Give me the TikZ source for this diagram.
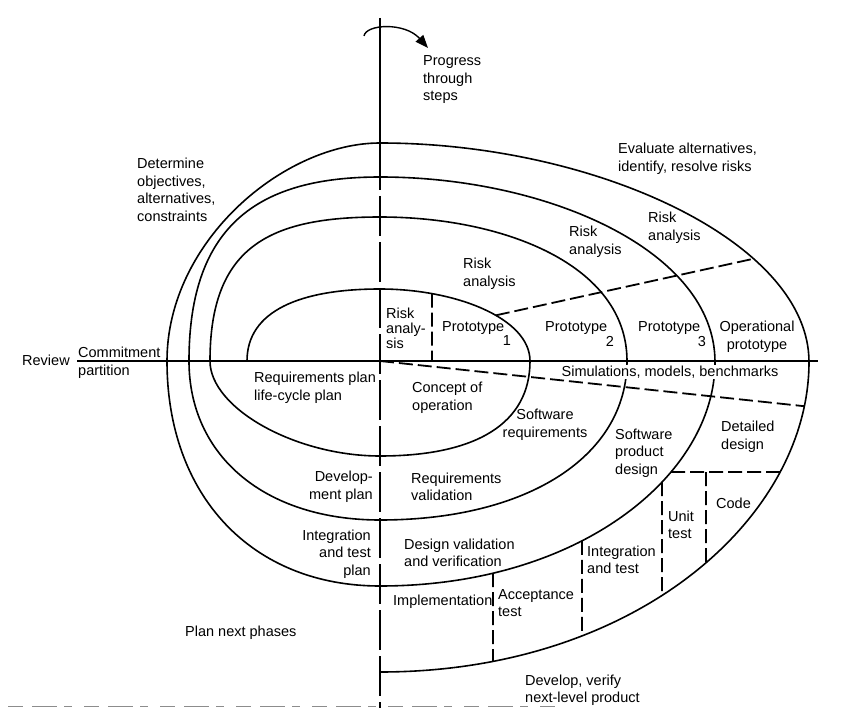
\documentclass[tikz,border=0pt]{standalone}
\usepackage{fontspec}
\setmainfont{Liberation Sans}
\usetikzlibrary{arrows.meta,intersections}

\tikzset{
  lbl/.style={inner sep=0pt, font=\fontsize{14.5}{17.5}\selectfont},
  lblL/.style={lbl, anchor=west, align=left},
  lblR/.style={lbl, anchor=east, align=right},
  lblC/.style={lbl, align=center},
  spiralline/.style={line width=1.6pt, line cap=round},
  cutline/.style={line width=1.8pt, dash pattern=on 14pt off 5pt},
  axisline/.style={line width=1.2pt},
}

\begin{document}
\begin{tikzpicture}[x=1pt, y=-1pt]
\useasboundingbox (0,0) rectangle (844,722);

\coordinate (axtop) at (380,18);
\coordinate (axmid) at (380,150);
\coordinate (axbot) at (380,708);
\coordinate (hl0) at (77,361);
\coordinate (hl1) at (818,361);
\coordinate (sm0) at (380,361);

% the spiral, one half turn at a time
\draw[spiralline, name path=u1] (247,361) .. controls (247,311) and (300,289) .. (380,289)
  .. controls (455,289) and (530,318) .. (530,361);
\draw[spiralline] (530,361) .. controls (530,423) and (477,456) .. (380,456)
  .. controls (295,456) and (210,408) .. (210,361);
\draw[spiralline] (210,361) .. controls (210,246) and (270,217) .. (380,217)
  .. controls (504,217) and (627,265) .. (627,361);
\draw[spiralline] (627,361) .. controls (627,456) and (528,520) .. (380,520)
  .. controls (265,520) and (189,456) .. (189,361);
\draw[spiralline] (189,361) .. controls (189,222) and (262,177) .. (380,177)
  .. controls (548,177) and (715,251) .. (715,362);
\draw[spiralline, name path=l3] (715,362) .. controls (715,474) and (581,586) .. (380,586);
\draw[spiralline] (380,586) .. controls (252,586) and (167,496) .. (167,361);
\draw[spiralline, name path=u4] (167,361) .. controls (167,241) and (284,143) .. (380,143)
  .. controls (595,143) and (809,242) .. (809,362);
\draw[spiralline, name path=l4] (809,362) .. controls (809,517) and (637,672) .. (380,672);

% where the cut lines meet the spiral
\path[name path=cutra] (432,250) -- (432,361);
\path[name path=cutrk] (470,321) -- (830,242);
\path[name path=cutsm] (sm0) -- (840,410);
\path[name path=cutdd] (640,472) -- (830,472);
\path[name path=cutut] (662,400) -- (662,700);
\path[name path=cutit] (582,400) -- (582,700);
\path[name path=cutac] (493,400) -- (493,700);
\path[name path=cutco] (706,472) -- (706,700);
\path[name intersections={of=u1 and cutra, by=ra0}];
\coordinate (ra1) at (432,361);
\path[name intersections={of=u1 and cutrk, by=rk0}];
\path[name intersections={of=u4 and cutrk, by=rk1}];
\path[name intersections={of=l4 and cutsm, by=sm1}];
\path[name intersections={of=l3 and cutdd, by=dd0}];
\path[name intersections={of=l4 and cutdd, by=dd1}];
\coordinate (co0) at (706,472);
\path[name intersections={of=l4 and cutco, by=co1}];
\path[name intersections={of=l3 and cutut, by=ut0}];
\path[name intersections={of=l4 and cutut, by=ut1}];
\path[name intersections={of=l3 and cutit, by=it0}];
\path[name intersections={of=l4 and cutit, by=it1}];
\path[name intersections={of=l3 and cutac, by=ac0}];
\path[name intersections={of=l4 and cutac, by=ac1}];

% axis and arrow
\draw[axisline] (axtop) -- (axmid);
\draw[axisline, dash pattern=on 40pt off 6pt] (axmid) -- (axbot);
\draw[line width=1.4pt, -{Triangle[length=13pt,width=10pt]}]
  (364,36) .. controls (366,24) and (405,22) .. (428,48);

\node[lbl, fill=white, inner sep=1pt] (sim) at (670,372) {Simulations, models, benchmarks};

\draw[line width=2.2pt] (hl0) -- (hl1);
\draw[cutline] (ra0) -- (ra1);
\draw[cutline] (rk0) -- (rk1);
\draw[cutline] (sm0) -- (sm1);
\draw[cutline] (dd0) -- (dd1);
\draw[cutline] (co0) -- (co1);
\draw[cutline] (ut0) -- (ut1);
\draw[cutline] (it0) -- (it1);
\draw[cutline] (ac0) -- (ac1);
\draw[black!45, line width=0.8pt, dash pattern=on 15pt off 9pt on 25pt off 7pt on 8pt off 12pt]
  (8,706) -- (555,706);

% labels
\node[lblL] (progress) at (423,80) {Progress\\through\\steps};
\node[lblL] (evaluate) at (618,159) {Evaluate alternatives,\\identify, resolve risks};
\node[lblL] (determine) at (137,190) {Determine\\objectives,\\alternatives,\\constraints};
\node[lblL] (review) at (22,360) {Review};
\node[lblL] (commit) at (78,352) {Commitment};
\node[lblL] (partition) at (78,372) {partition};
\node[lblL, font=\fontsize{14.5}{15}\selectfont] (risk0) at (386,328) {Risk\\analy-\\sis};
\node[lblL] (risk1) at (463,274) {Risk\\analysis};
\node[lblL] (risk2) at (569,242) {Risk\\analysis};
\node[lblL] (risk3) at (648,228) {Risk\\analysis};
\node[lblL] (proto1) at (442,328) {Prototype};
\node[lbl] (proto1n) at (507,341) {1};
\node[lblL] (proto2) at (545,328) {Prototype};
\node[lbl] (proto2n) at (610,341) {2};
\node[lblL] (proto3) at (638,328) {Prototype};
\node[lbl] (proto3n) at (702,342) {3};
\node[lblC] (opproto) at (757,337) {Operational\\prototype};
\node[lblL] (reqplan) at (254,388) {Requirements plan\\life-cycle plan};
\node[lblL] (concept) at (412,398) {Concept of\\operation};
\node[lblC] (swreq) at (545,425) {Software\\requirements};
\node[lblL] (swprod) at (615,453) {Software\\product\\design};
\node[lblL] (detail) at (721,437) {Detailed\\design};
\node[lblL] (code) at (716,503) {Code};
\node[lblL] (unit) at (668,525) {Unit\\test};
\node[lblL] (integ) at (587,560) {Integration\\and test};
\node[lblL] (accept) at (498,603) {Acceptance\\test};
\node[lblL] (impl) at (393,602) {Implementation};
\node[lblL] (desval) at (404,553) {Design validation\\and verification};
\node[lblL] (reqval) at (411,487) {Requirements\\validation};
\node[lblR] (devplan) at (373,487) {Develop-\\ment plan};
\node[lblR] (itplan) at (371,554) {Integration\\and test\\plan};
\node[lblL] (plannext) at (185,633) {Plan next phases};
\node[lblL] (develop) at (525,690) {Develop, verify\\next-level product};
\end{tikzpicture}
\end{document}
